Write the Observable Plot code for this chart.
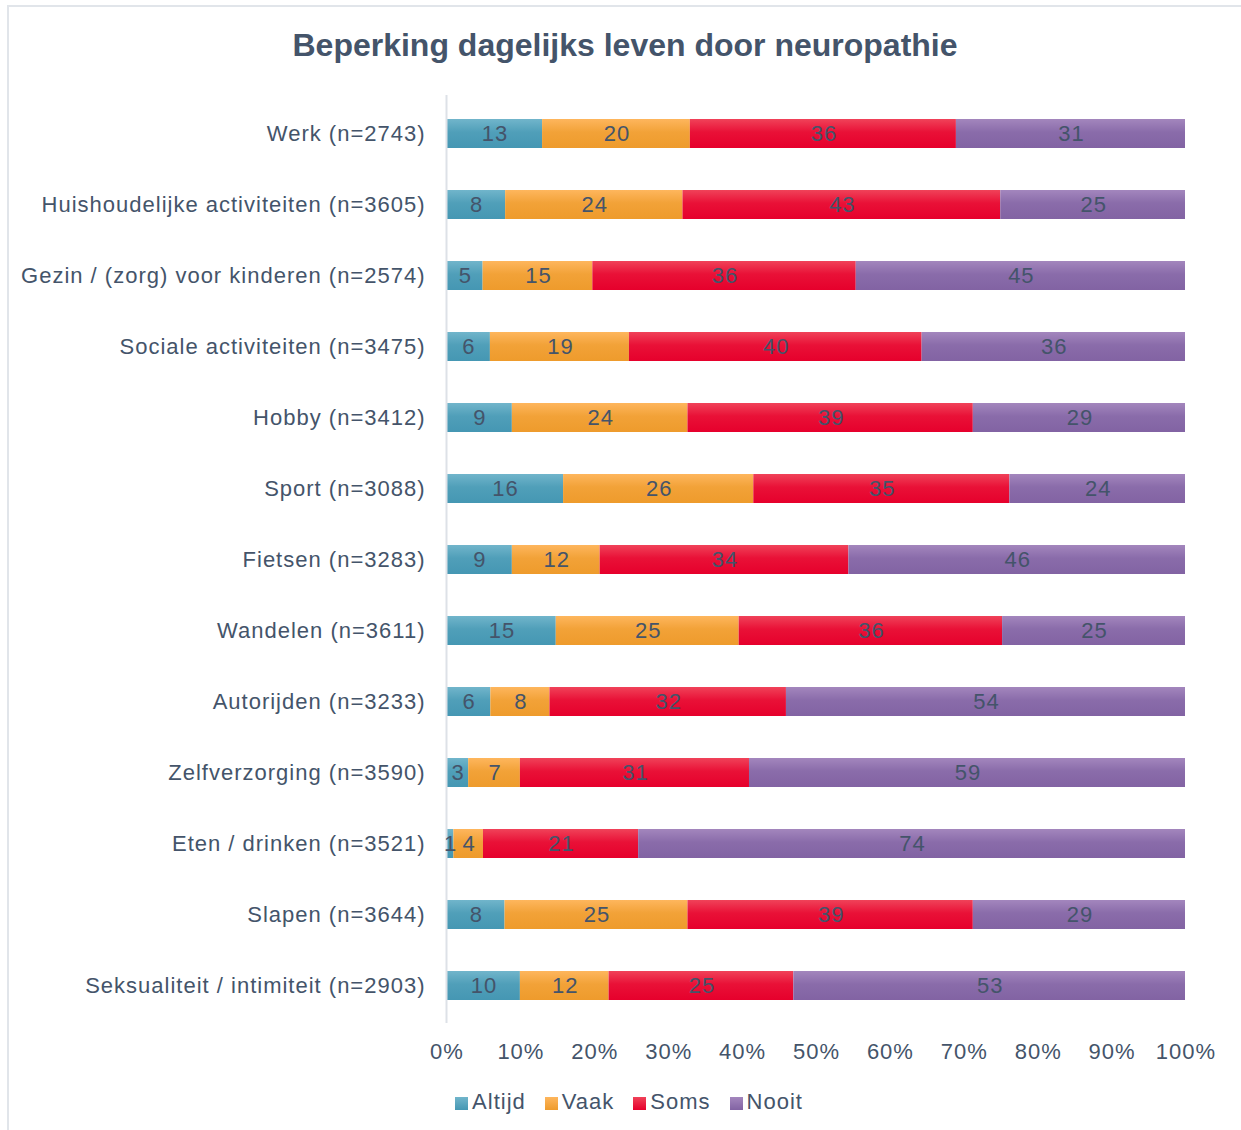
<!DOCTYPE html>
<html>
<head>
<meta charset="utf-8">
<script src="https://cdn.jsdelivr.net/npm/d3@7"></script>
<script src="https://cdn.jsdelivr.net/npm/@observablehq/plot@0.6"></script>
<style>
  html, body { margin: 0; padding: 0; background: #fff; }
  body { width: 1241px; height: 1130px; position: relative; overflow: hidden; font-family: "Liberation Sans", Arial, sans-serif; }
  #frame { position: absolute; left: 7px; top: 5px; width: 1300px; height: 1200px; border-left: 2px solid #e1e5ea; border-top: 2px solid #e1e5ea; box-sizing: border-box; }
  #title { position: absolute; top: 25px; left: 0; width: 1241px; padding-left: 9px; box-sizing: border-box; text-align: center; font-size: 32px; font-weight: bold; color: #44546A; line-height: 40px; }
  #chart { position: absolute; left: 0; top: 80px; }
  #legend { position: absolute; top: 1088px; left: 0; width: 1241px; padding-left: 36px; box-sizing: border-box; display: flex; justify-content: center; font-size: 22px; letter-spacing: 1px; color: #44546A; line-height: 28px; }
  .item { display: flex; align-items: center; margin: 0 19px 0 0; }
  .sw { width: 13px; height: 13px; margin-right: 4px; margin-top: 2px; }
</style>
</head>
<body>
<div id="frame"></div>
<div id="title">Beperking dagelijks leven door neuropathie</div>
<div id="chart"></div>
<div id="legend"></div>
<script>
const categories = [
  "Werk (n=2743)",
  "Huishoudelijke activiteiten (n=3605)",
  "Gezin / (zorg) voor kinderen (n=2574)",
  "Sociale activiteiten (n=3475)",
  "Hobby (n=3412)",
  "Sport (n=3088)",
  "Fietsen (n=3283)",
  "Wandelen (n=3611)",
  "Autorijden (n=3233)",
  "Zelfverzorging (n=3590)",
  "Eten / drinken (n=3521)",
  "Slapen (n=3644)",
  "Seksualiteit / intimiteit (n=2903)"
];
const seriesNames = ["Altijd", "Vaak", "Soms", "Nooit"];
const altijd = [13, 8, 5, 6, 9, 16, 9, 15, 6, 3, 1, 8, 10];
const vaak   = [20, 24, 15, 19, 24, 26, 12, 25, 8, 7, 4, 25, 12];
const soms   = [36, 43, 36, 40, 39, 35, 34, 36, 32, 31, 21, 39, 25];
const nooit  = [31, 25, 45, 36, 29, 24, 46, 25, 54, 59, 74, 29, 53];
const xTicks = [0, 0.1, 0.2, 0.3, 0.4, 0.5, 0.6, 0.7, 0.8, 0.9, 1];

const seriesValues = [altijd, vaak, soms, nooit];
const gradients = {
  Altijd: ["#71b5cb", "#4597b3"],
  Vaak:   ["#feb65d", "#ee9b2c"],
  Soms:   ["#f04259", "#e6002c"],
  Nooit:  ["#a386bd", "#8263a3"]
};
const gid = s => "grad-" + s;

const data = [];
seriesNames.forEach((s, si) => {
  categories.forEach((c, ci) => {
    data.push({cat: c, series: s, value: seriesValues[si][ci]});
  });
});

const textColor = "#44546A";

const plot = Plot.plot({
  width: 1241,
  height: 1000,
  marginLeft: 446,
  marginRight: 56,
  marginTop: 15,
  marginBottom: 57,
  style: {fontFamily: "'Liberation Sans', Arial, sans-serif", fontSize: "22px", letterSpacing: "1px", color: textColor, background: "transparent"},
  x: {domain: [0, 1], axis: null},
  y: {domain: categories, paddingInner: 0.593, paddingOuter: 0.2965, axis: null},
  color: {domain: seriesNames, range: seriesNames.map(s => `url(#${gid(s)})`)},
  marks: [
    Plot.barX(data, Plot.stackX({x: "value", y: "cat", fill: "series", z: "series", offset: "normalize"})),
    Plot.ruleX([0], {stroke: "#dde1e7", strokeWidth: 2}),
    Plot.text(data, Plot.stackX({x: "value", y: "cat", z: "series", text: d => String(d.value), offset: "normalize", fill: textColor, fontSize: 22, dx: 0.5})),
    Plot.axisY({tickSize: 0, tickPadding: 21, fontSize: 22, fill: textColor, label: null}),
    Plot.axisX({ticks: xTicks, tickSize: 0, tickPadding: 20, tickFormat: d3.format(".0%"), fontSize: 22, fill: textColor, label: null, dx: 0.5})
  ]
});

// gradient definitions
const svg = d3.select(plot);
const defs = svg.insert("defs", ":first-child");
seriesNames.forEach(s => {
  const g = defs.append("linearGradient").attr("id", gid(s)).attr("x1", 0).attr("y1", 0).attr("x2", 0).attr("y2", 1);
  g.append("stop").attr("offset", "0%").attr("stop-color", gradients[s][0]);
  g.append("stop").attr("offset", "45%").attr("stop-color", d3.interpolateRgb(gradients[s][0], gradients[s][1])(0.75));
  g.append("stop").attr("offset", "100%").attr("stop-color", gradients[s][1]);
});
document.getElementById("chart").appendChild(plot);

// legend
const legend = d3.select("#legend");
seriesNames.forEach(s => {
  const it = legend.append("div").attr("class", "item");
  it.append("div").attr("class", "sw").style("background", `linear-gradient(${gradients[s][0]}, ${gradients[s][1]})`);
  it.append("span").text(s);
});
</script>
</body>
</html>
